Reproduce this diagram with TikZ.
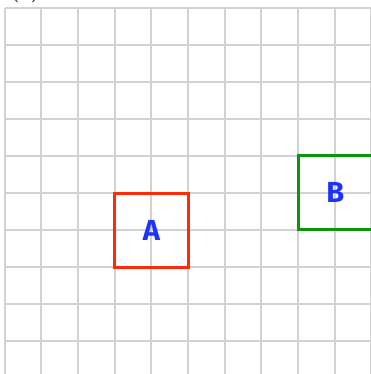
\documentclass[tikz,border=0pt]{standalone}
\usepackage{fontspec}
\newfontfamily\handfont{Fira Sans}
\definecolor{gridgray}{HTML}{D2D2D2}
\definecolor{boxred}{HTML}{FF2A0A}
\definecolor{boxgreen}{HTML}{0A960A}
\definecolor{labelblue}{HTML}{1E32FF}
\begin{document}
\begin{tikzpicture}[x=1pt,y=-1pt,
  gridline/.style={draw=gridgray,line width=2pt},
  cellbox/.style={minimum width=73.3pt,minimum height=74pt,line width=3pt,inner sep=0pt,
    font=\handfont\bfseries\fontsize{29}{30}\selectfont,text=labelblue},
  tag/.style={font=\bfseries\fontsize{21}{22}\selectfont,anchor=base west,inner sep=0pt}]
\useasboundingbox (0,0) rectangle (371,374);
\foreach \k in {0,...,10} \draw[gridline] ({4.7+36.67*\k},8.3) -- ({4.7+36.67*\k},380);
\foreach \k in {0,...,9} \draw[gridline] (4.7,{8.3+37*\k}) -- (380,{8.3+37*\k});
\node[tag] (title) at (10,-2.5) {(a)};
\node[cellbox,draw=boxred] (A) at (151.4,230.5) {A};
\node[cellbox,draw=boxgreen] (B) at (335.4,192.5) {B};
\end{tikzpicture}
\end{document}
